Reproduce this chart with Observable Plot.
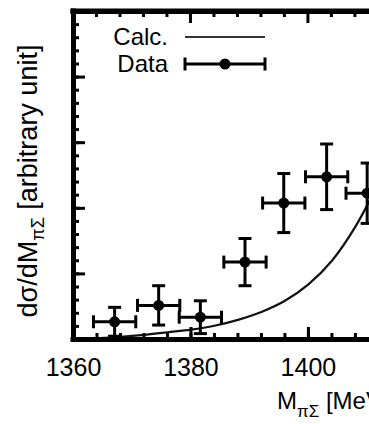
<!DOCTYPE html>
<html><head><meta charset="utf-8">
<script src="https://cdn.jsdelivr.net/npm/d3@7"></script>
<script src="https://cdn.jsdelivr.net/npm/@observablehq/plot@0.6"></script>
<style>
body{margin:0;background:#fff;overflow:hidden}
svg{display:block}
</style>
</head><body><div id="chart"></div>
<script>
// ---- data ----
const binCenters = [1367.0, 1374.5, 1381.6, 1389.2, 1395.8, 1403.1, 1410.0];
const dataValues = [0.27, 0.52, 0.34, 1.18, 2.08, 2.48, 2.23];
const dataErrors = [0.22, 0.30, 0.25, 0.36, 0.45, 0.50, 0.46];
const binHalfWidth = 3.6;
const calcMass   = [1360, 1364, 1368, 1372, 1376, 1380, 1384, 1388, 1392, 1396, 1400, 1404, 1408, 1412];
const calcValues = [0.00, 0.02, 0.04, 0.07, 0.11, 0.15, 0.21, 0.30, 0.42, 0.59, 0.84, 1.20, 1.72, 2.40];
const xMajorTicks = [1360, 1380, 1400];
const xTickLabels = ["1360", "1380", "1400"];
const xMinorTicks = d3.range(1360, 1412, 4);
const yMajorTicks = [0, 1, 2, 3, 4, 5];
const yMinorTicks = d3.range(0, 26).map(i => i / 5);
const legendLabels = ["Calc.", "Data"];

const points = binCenters.map((x, i) => ({x, y: dataValues[i], lo: dataValues[i] - dataErrors[i], hi: dataValues[i] + dataErrors[i], x1: x - binHalfWidth, x2: x + binHalfWidth}));
const calc = calcMass.map((x, i) => ({x, y: calcValues[i]}));

const hCap = {draw(ctx, size){ const w = Math.sqrt(size / Math.PI); ctx.moveTo(-w, 0); ctx.lineTo(w, 0); }};
const vCap = {draw(ctx, size){ const w = Math.sqrt(size / Math.PI); ctx.moveTo(0, -w); ctx.lineTo(0, w); }};

const W = 369, H = 424;
const svg = Plot.plot({
  width: W, height: H,
  marginLeft: 73, marginRight: 0, marginTop: 11, marginBottom: 85,
  style: {fontFamily: "'Liberation Sans', Arial, sans-serif", background: "#fff", color: "#000"},
  x: {domain: [1360, 1410.4], label: null},
  y: {domain: [0, 5], label: null},
  marks: [
    Plot.line(calc, {x: "x", y: "y", stroke: "#111", strokeWidth: 2.2, curve: "catmull-rom"}),
    Plot.ruleX(points, {x: "x", y1: "lo", y2: "hi", stroke: "#000", strokeWidth: 3}),
    Plot.ruleY(points, {y: "y", x1: "x1", x2: "x2", stroke: "#000", strokeWidth: 3}),
    Plot.dot(points, {x: "x", y: "hi", symbol: hCap, r: 6.5, stroke: "#000", strokeWidth: 3, fill: "none"}),
    Plot.dot(points, {x: "x", y: "lo", symbol: hCap, r: 6.5, stroke: "#000", strokeWidth: 3, fill: "none"}),
    Plot.dot(points, {x: "x1", y: "y", symbol: vCap, r: 6.5, stroke: "#000", strokeWidth: 3, fill: "none"}),
    Plot.dot(points, {x: "x2", y: "y", symbol: vCap, r: 6.5, stroke: "#000", strokeWidth: 3, fill: "none"}),
    Plot.dot(points, {x: "x", y: "y", r: 5.5, fill: "#000", stroke: "none"}),
    Plot.axisX({anchor: "bottom", ticks: xMinorTicks, tickSize: -6, tickFormat: () => "", strokeWidth: 3, label: null}),
    Plot.axisX({anchor: "bottom", ticks: xMajorTicks, tickSize: -12, tickFormat: () => "", strokeWidth: 3, label: null}),
    Plot.axisY({anchor: "left", ticks: yMinorTicks, tickSize: -6, tickFormat: () => "", strokeWidth: 3, label: null}),
    Plot.axisY({anchor: "left", ticks: yMajorTicks, tickSize: -12, tickFormat: () => "", strokeWidth: 3, label: null}),
    Plot.axisX({anchor: "bottom", ticks: xMajorTicks, tickSize: 0, tickPadding: 19, fontSize: 25,
      tickFormat: (d) => xTickLabels[xMajorTicks.indexOf(d)], label: null}),
    Plot.ruleX([1360], {stroke: "#000", strokeWidth: 5, strokeLinecap: "square"}),
    Plot.ruleY([0], {stroke: "#000", strokeWidth: 5, strokeLinecap: "square"}),
    Plot.ruleY([5], {stroke: "#000", strokeWidth: 5, strokeLinecap: "square"})
  ]
});
document.getElementById("chart").appendChild(svg);

const s = d3.select(svg);
const xs = svg.scale("x"), ys = svg.scale("y");
// top frame edge with inward ticks, placed through the scales
const topG = s.append("g").attr("stroke", "#000").attr("stroke-width", 3);
xMinorTicks.forEach(t => {
  const len = xMajorTicks.includes(t) ? 12 : 6;
  topG.append("line").attr("x1", xs.apply(t)).attr("x2", xs.apply(t))
    .attr("y1", ys.apply(5)).attr("y2", ys.apply(5) + len);
});
topG.append("line").attr("x1", xs.apply(1360) - 2.5).attr("x2", W)
  .attr("y1", ys.apply(5)).attr("y2", ys.apply(5)).attr("stroke-width", 5);

const font = "'Liberation Sans', Arial, sans-serif";
// legend
const lg = s.append("g").attr("font-family", font).attr("font-size", 24).attr("fill", "#000");
lg.append("text").attr("x", 168).attr("y", 45).attr("text-anchor", "end").text(legendLabels[0]);
lg.append("text").attr("x", 168).attr("y", 72).attr("text-anchor", "end").text(legendLabels[1]);
lg.append("line").attr("x1", 185).attr("x2", 265).attr("y1", 37).attr("y2", 37).attr("stroke", "#333").attr("stroke-width", 2);
lg.append("line").attr("x1", 185).attr("x2", 265).attr("y1", 64).attr("y2", 64).attr("stroke", "#000").attr("stroke-width", 3);
lg.append("line").attr("x1", 185).attr("x2", 185).attr("y1", 57.5).attr("y2", 70.5).attr("stroke", "#000").attr("stroke-width", 3);
lg.append("line").attr("x1", 265).attr("x2", 265).attr("y1", 57.5).attr("y2", 70.5).attr("stroke", "#000").attr("stroke-width", 3);
lg.append("circle").attr("cx", 225).attr("cy", 64).attr("r", 5.5).attr("fill", "#000");

// y-axis title
const yt = s.append("text").attr("font-family", font).attr("font-size", 27).attr("fill", "#000")
  .attr("text-anchor", "middle").attr("transform", "translate(37,181) rotate(-90)");
yt.append("tspan").text("dσ/dM");
yt.append("tspan").attr("font-size", 18).attr("dy", 7).text("πΣ");
yt.append("tspan").attr("dy", -7).text(" [arbitrary unit]");

// x-axis title (cut by the right edge as in the reference)
const xt = s.append("text").attr("font-family", font).attr("font-size", 24).attr("fill", "#000")
  .attr("text-anchor", "start").attr("x", 277).attr("y", 409);
xt.append("tspan").text("M");
xt.append("tspan").attr("font-size", 17).attr("dy", 8).text("πΣ");
xt.append("tspan").attr("dy", -8).text(" [MeV]");
</script>
</body></html>
